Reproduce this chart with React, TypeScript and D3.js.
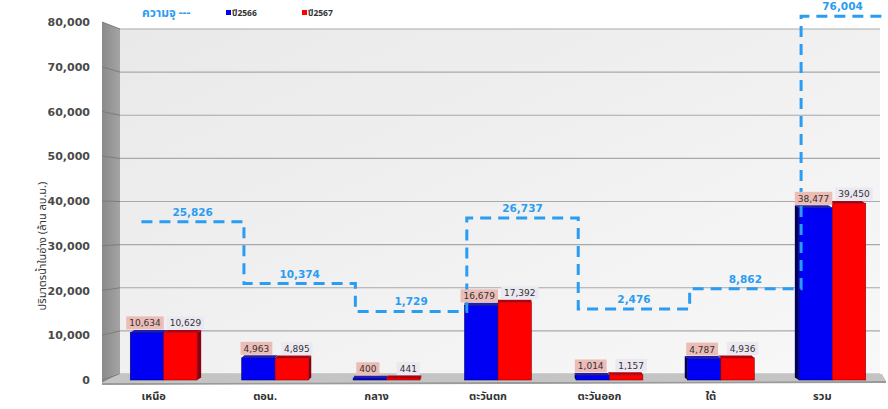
import React from "react";
import * as d3 from "d3";

const categories = ["เหนือ", "ตอน.", "กลาง", "ตะวันตก", "ตะวันออก", "ใต้", "รวม"];
const values2566 = [10634, 4963, 400, 16679, 1014, 4787, 38477];
const values2567 = [10629, 4895, 441, 17392, 1157, 4936, 39450];
const capacity = [25826, 10374, 1729, 26737, 2476, 8862, 76004];
const yTicks = [0, 10000, 20000, 30000, 40000, 50000, 60000, 70000, 80000];
const seriesNames = ["ปี2566", "ปี2567"];
const capacityName = "ความจุ ---";
const yTitle = "ปริมาตรน้ำในอ่าง (ล้าน ลบ.ม.)";

const W = 888;
const H = 409;
const THAI = "Tahoma, 'Noto Sans Thai', 'Noto Sans Thai UI', 'Noto Sans', 'DejaVu Sans', sans-serif";
const NUM = "'DejaVu Sans', Verdana, sans-serif";
const fmt = d3.format(",");

function labelWidth(s: string) {
  let w = 0;
  for (const ch of s) w += ch === "," ? 2.9 : 5.72;
  return w + 6;
}

export default function App() {
  const x = d3.scaleBand<string>().domain(categories).range([108, 888]).padding(0);
  const bw = x.bandwidth();
  const y = d3.scaleLinear().domain([0, 80000]).range([380, 22]);
  const yBack = d3.scaleLinear().domain([0, 80000]).range([374, 29]);
  // secondary (capacity) scale
  const y2 = d3.scaleLinear().domain([0, 10000, 26000, 80000]).range([317, 285, 221, 0]);

  const wallL = 120;
  const wallR = 880;
  const sideL = 102;
  const midX = x(categories[3])! + bw / 2;

  const stepPts: [number, number][] = capacity.map((v, i) => [
    x(categories[i])! + (i === 0 ? bw * 0.3 : bw * 0.22),
    y2(v),
  ]);
  stepPts.push([884, y2(capacity[capacity.length - 1])]);
  const stepLine = d3.line<[number, number]>().curve(d3.curveStepAfter)(stepPts) || "";

  const capColor = "#2a9cf2";

  return (
    <svg width={W} height={H} style={{ position: "absolute", left: 0, top: 0, background: "#fff" }}>
      <defs>
        <linearGradient id="wall" x1="0" y1="0" x2="1" y2="1">
          <stop offset="0" stopColor="#e9e9e9" />
          <stop offset="1" stopColor="#f8f8f8" />
        </linearGradient>
        <linearGradient id="side" x1="0" y1="0" x2="1" y2="0">
          <stop offset="0" stopColor="#8a8a8a" />
          <stop offset="1" stopColor="#a4a4a4" />
        </linearGradient>
      </defs>

      {/* back wall */}
      <rect x={wallL} y={yBack(80000)} width={wallR - wallL} height={yBack(0) - yBack(80000)} fill="url(#wall)" />
      {yTicks.map((t) => (
        <line key={"g" + t} x1={wallL} x2={wallR} y1={yBack(t)} y2={yBack(t)} stroke="#a9a9a9" strokeWidth={1.2} />
      ))}

      {/* side wall */}
      <polygon
        points={`${sideL},${y(80000)} ${wallL},${yBack(80000)} ${wallL},${yBack(0)} ${sideL},${y(0) + 3}`}
        fill="url(#side)"
      />
      {yTicks.map((t) => (
        <line key={"s" + t} x1={sideL} x2={wallL} y1={y(t)} y2={yBack(t)} stroke="#7c7c7c" strokeWidth={1} />
      ))}

      {/* floor */}
      <polygon
        points={`${wallL},${yBack(0)} ${wallR + 2},${yBack(0)} ${886},${y(0) + 1} ${sideL},${y(0) + 3}`}
        fill="#c4c4c4"
      />
      <polygon
        points={`${sideL},${y(0) + 3} ${886},${y(0) + 1} ${886},${y(0) + 3} ${sideL},${y(0) + 5}`}
        fill="#9a9a9a"
      />

      {/* y axis */}
      {yTicks.map((t) => (
        <text key={"t" + t} x={90} y={y(t) + 4} textAnchor="end" fontFamily={NUM} fontSize={11} fontWeight="bold" fill="#4a4a4a">
          {fmt(t)}
        </text>
      ))}
      <text
        transform={`translate(46,246) rotate(-90)`}
        textAnchor="middle"
        fontFamily={THAI}
        fontSize={11}
        fill="#333"
      >
        {yTitle}
      </text>

      {/* bars */}
      {categories.map((c, i) => {
        const cx = x(c)! + bw / 2;
        const half = bw * 0.3;
        const base = y(0);
        const k = (cx - midX) * 0.012;
        const dy = 2.5;
        const bars = [
          { v: values2566[i], x0: cx - half, x1: cx, fill: "#0000f5", dark: "#00005a", top: "#2020b0" },
          { v: values2567[i], x0: cx, x1: cx + half, fill: "#ff0000", dark: "#8a0010", top: "#b00010" },
        ];
        return (
          <g key={c}>
            {bars.map((b, j) => {
              const yt = y(b.v);
              const els: any[] = [];
              els.push(
                <polygon
                  key="top"
                  points={`${b.x0},${yt} ${b.x0 - k},${yt - dy} ${b.x1 - k},${yt - dy} ${b.x1},${yt}`}
                  fill={b.top}
                />
              );
              if (k < 0 && j === 1) {
                els.push(
                  <polygon
                    key="side"
                    points={`${b.x1},${yt} ${b.x1 - k},${yt - dy} ${b.x1 - k},${base - dy} ${b.x1},${base}`}
                    fill={b.dark}
                  />
                );
              }
              if (k > 0 && j === 0) {
                els.push(
                  <polygon
                    key="side"
                    points={`${b.x0},${yt} ${b.x0 - k},${yt - dy} ${b.x0 - k},${base - dy} ${b.x0},${base}`}
                    fill={b.dark}
                  />
                );
              }
              els.push(
                <rect
                  key="front"
                  x={b.x0}
                  y={yt}
                  width={b.x1 - b.x0}
                  height={base - yt}
                  fill={b.fill}
                  stroke={b.dark}
                  strokeWidth={0.6}
                />
              );
              return <g key={j}>{els}</g>;
            })}
          </g>
        );
      })}

      {/* capacity step line */}
      <path d={stepLine} fill="none" stroke={capColor} strokeWidth={3} strokeDasharray="11,7" />

      {/* value labels */}
      {categories.map((c, i) => {
        const cx = x(c)! + bw / 2;
        const half = bw * 0.3;
        const items = [
          { v: values2566[i], cx: cx - half / 2 - 2, bg: "#ecbcb6" },
          { v: values2567[i], cx: cx + half / 2 + 5, bg: "#ece8f1" },
        ];
        return (
          <g key={"l" + c}>
            {items.map((it, j) => {
              const s = fmt(it.v);
              const w = labelWidth(s);
              const bottom = y(it.v) - 3;
              return (
                <g key={j}>
                  <rect x={it.cx - w / 2} y={bottom - 13} width={w} height={13} fill={it.bg} />
                  <text x={it.cx} y={bottom - 3} textAnchor="middle" fontFamily={NUM} fontSize={9} fill="#333">
                    {s}
                  </text>
                </g>
              );
            })}
          </g>
        );
      })}

      {/* capacity labels */}
      {capacity.map((v, i) => {
        const mx = (stepPts[i][0] + stepPts[i + 1][0]) / 2;
        return (
          <text
            key={"c" + i}
            x={mx}
            y={y2(v) - 6}
            textAnchor="middle"
            fontFamily={NUM}
            fontSize={10.5}
            fontWeight="bold"
            fill={capColor}
          >
            {fmt(v)}
          </text>
        );
      })}

      {/* x labels */}
      {categories.map((c) => (
        <text
          key={"x" + c}
          x={x(c)! + bw / 2 - 10}
          y={400}
          textAnchor="middle"
          fontFamily={THAI}
          fontSize={11}
          fontWeight="bold"
          fill="#333"
        >
          {c}
        </text>
      ))}

      {/* legend */}
      <text x={142} y={17} fontFamily={THAI} fontSize={12} fontWeight="bold" fill={capColor}>
        {capacityName}
      </text>
      <rect x={226} y={10} width={5} height={5} fill="#0000f5" />
      <text x={232} y={16} fontFamily={THAI} fontSize={8.5} fontWeight="bold" fill="#333">
        {seriesNames[0]}
      </text>
      <rect x={302} y={10} width={5} height={5} fill="#ff0000" />
      <text x={308} y={16} fontFamily={THAI} fontSize={8.5} fontWeight="bold" fill="#333">
        {seriesNames[1]}
      </text>
    </svg>
  );
}
